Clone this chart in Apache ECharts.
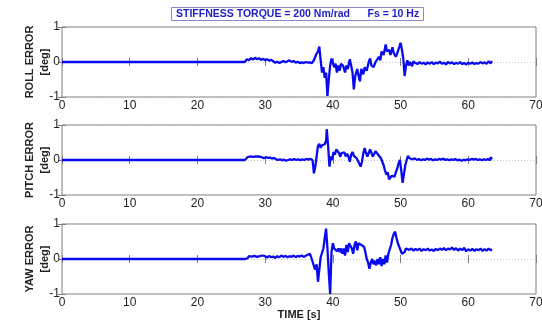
<!DOCTYPE html>
<html>
<head>
<meta charset="utf-8">
<script src="https://cdn.jsdelivr.net/npm/echarts@6/dist/echarts.min.js"></script>
<style>
html,body{margin:0;padding:0;background:#fff;}
#chart{width:542px;height:320px;}
</style>
</head>
<body>
<div id="chart"></div>
<script>
// [time s, error deg], Fs = 10 Hz
var rollData = [[0,0],[27,0],[27.3,0.08],[27.6,0.05],[27.9,0.11],[28.2,0.07],[28.5,0.12],[28.8,0.08],[29.1,0.11],[29.4,0.06],[29.7,0.09],[30.0,0.05],[30.3,0.08],[30.6,0.04],[30.9,0.06],[31.2,0.02],[31.5,-0.02],[31.8,0.01],[32.1,-0.03],[32.4,0.0],[32.7,0.03],[33.0,-0.01],[33.3,0.02],[33.6,0.05],[33.9,0.0],[34.2,0.03],[34.5,-0.02],[34.8,0.01],[35.1,-0.03],[35.4,-0.01],[35.7,-0.03],[36.0,0.0],[36.3,-0.02],[36.6,-0.01],[36.9,-0.03],[37.2,0.05],[37.5,0.2],[37.8,0.3],[38.0,0.44],[38.2,0.05],[38.4,-0.3],[38.6,-0.15],[38.8,-0.45],[39.0,-0.3],[39.2,-0.97],[39.4,-0.5],[39.6,-0.1],[39.8,0.1],[40.0,0.05],[40.2,-0.15],[40.4,-0.05],[40.6,-0.3],[40.8,-0.1],[41.0,-0.25],[41.2,-0.05],[41.5,-0.1],[41.8,-0.3],[42.0,-0.1],[42.2,-0.2],[42.5,0.08],[42.7,-0.1],[42.9,-0.3],[43.1,-0.78],[43.3,-0.4],[43.6,-0.2],[43.8,-0.4],[44.0,-0.55],[44.2,-0.2],[44.5,-0.35],[44.7,-0.15],[45.0,-0.25],[45.3,0.0],[45.5,0.1],[45.7,-0.1],[46.0,-0.15],[46.3,0.0],[46.5,-0.05],[46.8,0.15],[47.0,0.05],[47.2,0.3],[47.5,0.2],[47.8,0.5],[48.0,0.3],[48.3,0.35],[48.5,0.2],[48.8,0.42],[49.0,0.25],[49.3,0.15],[49.6,0.3],[49.8,0.25],[50.0,0.55],[50.2,0.35],[50.4,0.1],[50.6,-0.4],[50.8,-0.1],[51.0,0.05],[51.2,-0.1],[51.4,0.0],[51.7,-0.12],[51.9,0.02],[52.2,-0.03],[52.5,-0.06],[52.8,0.0],[53.1,-0.05],[53.4,-0.02],[53.7,-0.07],[54.0,-0.01],[54.3,-0.05],[54.6,0.0],[54.9,-0.06],[55.2,-0.02],[55.5,-0.04],[55.8,0.01],[56.1,-0.05],[56.4,-0.02],[56.7,-0.07],[57.0,0.0],[57.3,-0.04],[57.6,-0.01],[57.9,-0.06],[58.2,-0.02],[58.5,-0.05],[58.8,0.0],[59.1,-0.06],[59.4,-0.03],[59.7,-0.07],[60.0,-0.02],[60.3,-0.05],[60.6,-0.01],[60.9,-0.06],[61.2,-0.03],[61.5,-0.05],[61.8,0.0],[62.1,-0.04],[62.4,-0.01],[62.7,-0.05],[63.0,0.02],[63.3,-0.04],[63.5,0.03]];

var pitchData = [[0,0],[27,0],[27.2,0.03],[27.4,0.08],[27.6,0.05],[27.8,0.1],[28.0,0.06],[28.2,0.09],[28.4,0.05],[28.6,0.1],[28.8,0.07],[29.0,0.1],[29.2,0.06],[29.5,0.08],[29.8,0.05],[30.1,0.08],[30.4,0.06],[30.7,0.07],[31.0,0.04],[31.3,0.06],[31.6,0.02],[31.9,0.0],[32.2,0.02],[32.5,-0.01],[32.8,0.01],[33.1,-0.02],[33.4,0.0],[33.7,0.02],[34.0,0.0],[34.3,0.03],[34.6,0.0],[34.9,0.02],[35.2,-0.01],[35.5,0.02],[35.8,0.0],[36.1,0.03],[36.4,0.01],[36.7,0.03],[37.0,0.0],[37.2,-0.38],[37.4,-0.2],[37.6,0.1],[37.8,0.4],[38.0,0.46],[38.2,0.35],[38.4,0.42],[38.6,0.38],[38.8,0.45],[39.0,0.55],[39.1,0.88],[39.3,0.4],[39.5,-0.19],[39.7,0.1],[39.9,0.0],[40.1,0.23],[40.3,0.15],[40.5,0.3],[40.7,0.32],[40.9,0.2],[41.1,0.1],[41.3,0.2],[41.5,0.15],[41.7,0.22],[41.9,0.1],[42.1,0.18],[42.3,0.1],[42.5,-0.05],[42.7,0.15],[42.9,0.23],[43.1,0.12],[43.3,0.15],[43.5,0.05],[43.7,0.0],[43.9,-0.1],[44.1,-0.19],[44.3,-0.05],[44.5,0.2],[44.7,0.34],[44.9,0.2],[45.1,0.1],[45.3,0.15],[45.5,0.3],[45.7,0.2],[45.9,0.1],[46.1,0.15],[46.3,0.25],[46.5,0.3],[46.7,0.15],[46.9,0.1],[47.1,0.05],[47.3,-0.05],[47.5,-0.15],[47.7,-0.3],[47.9,-0.42],[48.1,-0.35],[48.3,-0.55],[48.5,-0.5],[48.7,-0.45],[48.9,-0.5],[49.1,-0.48],[49.3,-0.35],[49.5,-0.25],[49.7,-0.1],[49.9,0.0],[50.1,-0.3],[50.3,-0.65],[50.5,-0.4],[50.7,-0.15],[50.9,0.0],[51.1,0.12],[51.3,0.05],[51.5,0.08],[51.8,0.02],[52.1,0.05],[52.4,0.0],[52.7,0.03],[53.0,-0.01],[53.3,0.02],[53.6,0.0],[53.9,0.04],[54.2,0.01],[54.5,0.03],[54.8,-0.01],[55.1,0.02],[55.4,0.0],[55.7,0.03],[56.0,0.01],[56.3,0.04],[56.6,0.0],[56.9,0.02],[57.2,-0.01],[57.5,0.02],[57.8,0.0],[58.1,0.03],[58.4,-0.01],[58.7,0.01],[59.0,-0.02],[59.3,0.01],[59.6,-0.01],[59.9,0.02],[60.2,0.0],[60.5,0.03],[60.8,0.01],[61.1,0.03],[61.4,0.0],[61.7,0.02],[62.0,-0.01],[62.3,0.02],[62.6,0.0],[62.9,0.03],[63.2,-0.01],[63.3,0.08],[63.5,0.02]];

var yawData = [[0,0],[27,0],[27.2,0.05],[27.4,0.02],[27.6,0.08],[27.8,0.04],[28.0,0.07],[28.2,0.03],[28.4,0.09],[28.6,0.04],[28.8,0.06],[29.0,0.02],[29.2,0.08],[29.4,0.05],[29.6,0.1],[29.8,0.05],[30.0,0.08],[30.3,0.04],[30.6,0.09],[30.9,0.05],[31.2,0.07],[31.5,0.03],[31.8,0.08],[32.1,0.05],[32.4,0.1],[32.7,0.06],[33.0,0.09],[33.3,0.05],[33.6,0.08],[33.9,0.06],[34.2,0.1],[34.5,0.05],[34.8,0.09],[35.1,0.07],[35.4,0.1],[35.7,0.06],[36.0,0.09],[36.3,0.12],[36.6,0.15],[36.8,0.05],[37.0,0.0],[37.2,-0.2],[37.4,-0.3],[37.6,-0.15],[37.8,-0.65],[38.0,-0.3],[38.2,0.05],[38.4,0.1],[38.6,0.3],[38.8,0.6],[39.0,0.87],[39.2,0.3],[39.4,-0.4],[39.6,-1.0],[39.8,0.2],[40.0,0.45],[40.2,0.3],[40.4,0.35],[40.6,0.22],[40.8,0.3],[41.0,0.2],[41.2,0.3],[41.4,0.15],[41.6,0.3],[41.8,0.1],[42.0,0.4],[42.2,0.2],[42.4,0.45],[42.6,0.5],[42.8,0.3],[43.0,0.15],[43.2,0.4],[43.4,0.5],[43.6,0.25],[43.8,0.45],[44.0,0.5],[44.2,0.4],[44.4,0.45],[44.6,0.35],[44.8,0.2],[45.0,0.0],[45.2,-0.1],[45.4,-0.28],[45.6,-0.1],[45.8,0.0],[46.0,-0.15],[46.2,-0.05],[46.4,-0.18],[46.6,0.0],[46.8,-0.15],[47.0,0.05],[47.2,-0.2],[47.4,0.0],[47.6,-0.15],[47.8,0.1],[48.0,-0.1],[48.2,0.15],[48.4,0.2],[48.6,0.4],[48.8,0.6],[49.0,0.72],[49.2,0.78],[49.4,0.6],[49.6,0.45],[49.8,0.35],[50.0,0.25],[50.2,0.15],[50.4,0.1],[50.6,0.2],[50.8,0.3],[51.0,0.32],[51.3,0.26],[51.6,0.3],[51.9,0.24],[52.2,0.29],[52.5,0.25],[52.8,0.3],[53.1,0.23],[53.4,0.28],[53.7,0.25],[54.0,0.3],[54.3,0.24],[54.6,0.27],[54.9,0.23],[55.2,0.29],[55.5,0.25],[55.8,0.3],[56.1,0.26],[56.4,0.31],[56.7,0.25],[57.0,0.3],[57.3,0.27],[57.6,0.33],[57.9,0.26],[58.2,0.31],[58.5,0.24],[58.8,0.3],[59.1,0.25],[59.4,0.32],[59.7,0.22],[60.0,0.28],[60.3,0.24],[60.6,0.29],[60.9,0.23],[61.2,0.28],[61.5,0.25],[61.8,0.3],[62.1,0.23],[62.4,0.28],[62.7,0.24],[63.0,0.3],[63.3,0.25],[63.5,0.28]];

var panelNames = ['ROLL ERROR\n[deg]', 'PITCH ERROR\n[deg]', 'YAW ERROR\n[deg]'];
var panelData = [rollData, pitchData, yawData];
var panelTops = [27, 125, 224];
var xTicks = [0, 70, 10];   // min, max, step
var yTicks = [-1, 1, 1];

var chart = echarts.init(document.getElementById('chart'));
var lineColor = '#0a0af0';
var boxColor = '#7f7f7f';
var labelFont = {color: '#222', fontSize: 12, fontFamily: 'Liberation Sans, Arial'};

var grids = [], xAxes = [], yAxes = [], series = [];
for (var i = 0; i < 3; i++) {
  grids.push({left: 62, right: 6, top: panelTops[i], height: 70, show: true,
    outerBoundsMode: 'none', containLabel: false,
    borderColor: boxColor, borderWidth: 1, backgroundColor: '#fff'});
  // bottom axis with labels
  xAxes.push({
    type: 'value', gridIndex: i, min: xTicks[0], max: xTicks[1], interval: xTicks[2],
    position: 'bottom',
    axisLine: {show: false},
    axisTick: {inside: true, length: 4, lineStyle: {color: boxColor}},
    axisLabel: Object.assign({margin: 3}, labelFont),
    splitLine: {show: false},
    name: i === 2 ? 'TIME [s]' : '',
    nameLocation: 'middle', nameGap: 15, nameMoveOverlap: false,
    nameTextStyle: {fontWeight: 'bold', fontSize: 11, color: '#222', fontFamily: 'Liberation Sans, Arial'}
  });
  // top axis, ticks only
  xAxes.push({
    type: 'value', gridIndex: i, min: xTicks[0], max: xTicks[1], interval: xTicks[2],
    position: 'top',
    axisLine: {show: false},
    axisTick: {inside: true, length: 4, lineStyle: {color: boxColor}},
    axisLabel: {show: false},
    splitLine: {show: false}
  });
  yAxes.push({
    type: 'value', gridIndex: i, min: yTicks[0], max: yTicks[1], interval: yTicks[2],
    position: 'left',
    axisLine: {show: false},
    axisTick: {inside: true, length: 4, lineStyle: {color: boxColor}},
    axisLabel: Object.assign({margin: 2}, labelFont),
    splitLine: {show: true, lineStyle: {color: '#c8c8c8', type: [1, 2], width: 1}},
    name: panelNames[i], nameLocation: 'middle', nameRotate: 90, nameGap: 10,
    nameMoveOverlap: false,
    nameTextStyle: {fontWeight: 'bold', fontSize: 11, color: '#222', lineHeight: 15,
      fontFamily: 'Liberation Sans, Arial'}
  });
  yAxes.push({
    type: 'value', gridIndex: i, min: yTicks[0], max: yTicks[1], interval: yTicks[2],
    position: 'right',
    axisLine: {show: false},
    axisTick: {inside: true, length: 4, lineStyle: {color: boxColor}},
    axisLabel: {show: false},
    splitLine: {show: false}
  });
  series.push({
    type: 'line', xAxisIndex: i * 2, yAxisIndex: i * 2, data: panelData[i],
    showSymbol: false, symbol: 'none', silent: true, animation: false,
    lineStyle: {color: lineColor, width: 2.3}
  });
}

chart.setOption({
  animation: false,
  title: {
    text: 'STIFFNESS TORQUE = 200 Nm/rad      Fs = 10 Hz',
    left: 171, top: 7,
    padding: [2, 5, 1, 5],
    borderColor: '#8a8ac8', borderWidth: 1,
    textStyle: {color: '#1c1cc8', fontWeight: 'bold', fontSize: 10.5, fontFamily: 'Liberation Sans, Arial'}
  },
  grid: grids,
  xAxis: xAxes,
  yAxis: yAxes,
  series: series
});
</script>
</body>
</html>
